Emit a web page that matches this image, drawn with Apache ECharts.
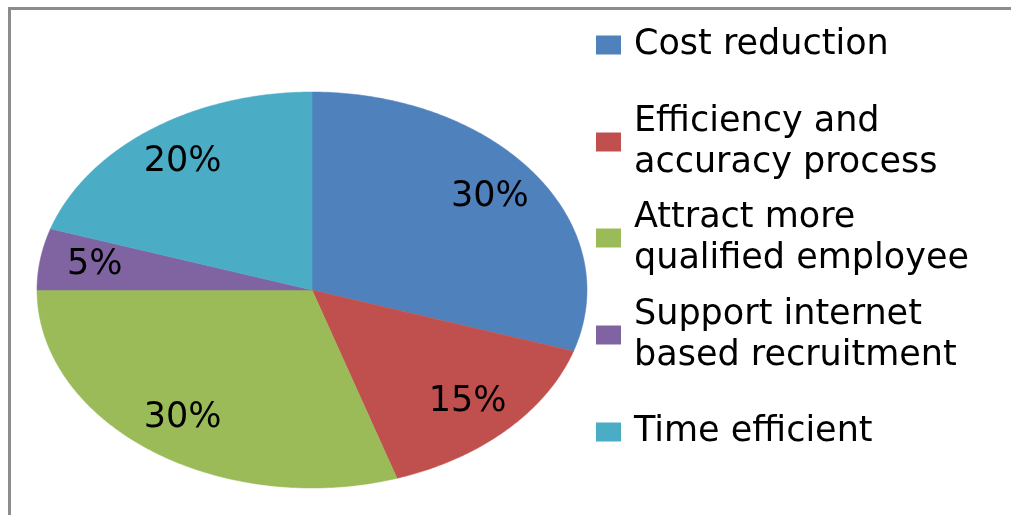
<!DOCTYPE html>
<html>
<head>
<meta charset="utf-8">
<script src="https://cdn.jsdelivr.net/npm/echarts@6/dist/echarts.min.js"></script>
<style>html,body{margin:0;padding:0;background:#fff}#c{width:1011px;height:515px}</style>
</head>
<body>
<div id="c"></div>
<script>
// ---- data ----
const categories = ['Cost reduction', 'Efficiency and accuracy process', 'Attract more qualified employee', 'Support internet based recruitment', 'Time efficient'];
const legendLines = ['Cost reduction', 'Efficiency and\naccuracy process', 'Attract more\nqualified employee', 'Support internet\nbased recruitment', 'Time efficient'];
const values = [30, 15, 30, 5, 20];
const colors = ['#4F81BD', '#C0504D', '#9BBB59', '#8064A2', '#4BACC6'];

// ---- layout ----
const CX = 312, CY = 290, RX = 275, RY = 198, LABEL_R = 0.8;
const FONT = 'DejaVu Sans';
const LH = 41;
const iconCenters = [45, 142, 238, 335, 432];

const total = values.reduce((a, b) => a + b, 0);
const offsets = values.map((v, i) => values.slice(0, i).reduce((a, b) => a + b, 0));

function pt(theta, f) {
  return [CX + RX * f * Math.sin(theta), CY - RY * f * Math.cos(theta)];
}

function makeRender(idx) {
  return function (params, api) {
    const v = api.value(0);
    const a0 = offsets[idx] / total * Math.PI * 2;
    const a1 = a0 + v / total * Math.PI * 2;
    const pts = [[CX, CY]];
    const steps = Math.max(8, Math.ceil((a1 - a0) / 0.01));
    for (let k = 0; k <= steps; k++) pts.push(pt(a0 + (a1 - a0) * k / steps, 1));
    const mid = (a0 + a1) / 2;
    const lp = pt(mid, LABEL_R);
    return {
      type: 'group',
      children: [
        { type: 'polygon', shape: { points: pts }, style: { fill: api.visual('color'), stroke: api.visual('color'), lineWidth: 0.5 } },
        { type: 'text', x: lp[0], y: lp[1], style: { text: Math.round(v / total * 100) + '%', fill: '#000', font: '35px "' + FONT + '"', align: 'center', verticalAlign: 'middle' } }
      ]
    };
  };
}

const series = categories.map((name, i) => ({
  type: 'custom',
  name: name,
  coordinateSystem: 'none',
  itemStyle: { color: colors[i] },
  renderItem: makeRender(i),
  data: [[values[i]]],
  silent: true
}));

const legends = categories.map((name, i) => {
  const two = legendLines[i].indexOf('\n') >= 0;
  const boxH = two ? LH * 3 : LH;
  return {
    left: 596,
    top: iconCenters[i] - boxH / 2,
    orient: 'vertical',
    padding: 0,
    icon: 'rect',
    itemWidth: 25,
    itemHeight: 19,
    selectedMode: false,
    data: [name],
    formatter: () => legendLines[i],
    textStyle: {
      fontFamily: FONT, fontSize: 35, color: '#000', lineHeight: LH,
      padding: two ? [LH, 0, 0, 8] : [0, 0, 0, 8]
    }
  };
});

const chart = echarts.init(document.getElementById('c'), null, { renderer: 'canvas' });
chart.setOption({
  animation: false,
  color: colors,
  legend: legends,
  graphic: [{
    type: 'rect', silent: true, z: -1,
    shape: { x: 9.5, y: 8.5, width: 1200, height: 700 },
    style: { fill: 'none', stroke: '#8c8c8c', lineWidth: 3 }
  }],
  series: series
});
</script>
</body>
</html>
